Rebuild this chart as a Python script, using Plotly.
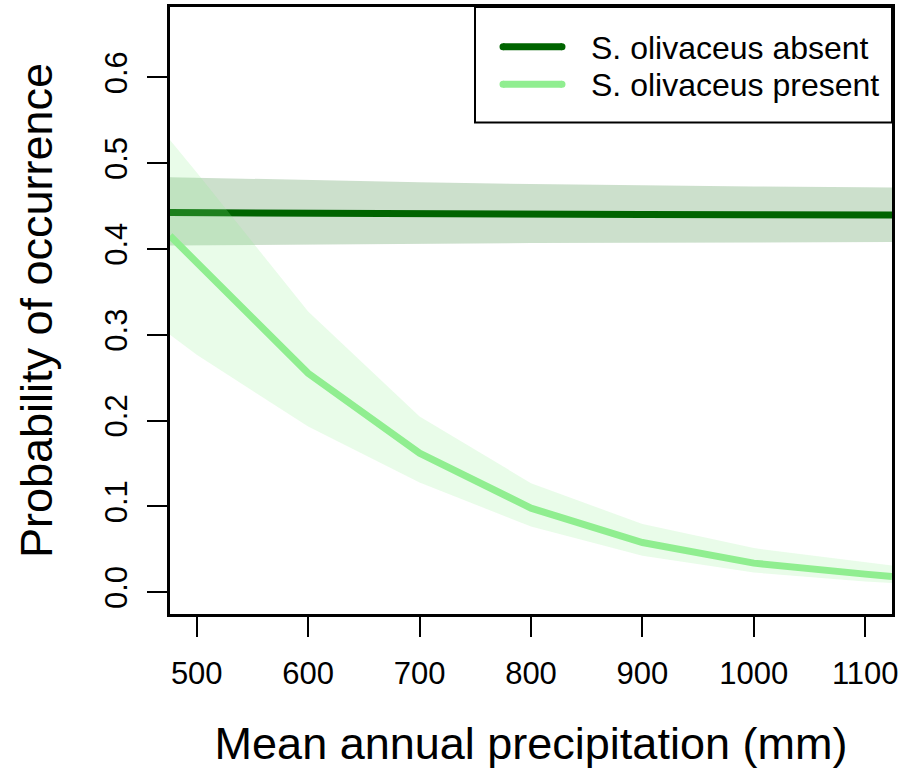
import plotly.graph_objects as go

# ---- data ----
precip = [476, 500, 600, 700, 800, 900, 1000, 1100, 1124]

absent_fit = [0.4424, 0.4422, 0.4416, 0.4411, 0.4406, 0.4402, 0.4399, 0.4397, 0.4397]
absent_upper = [0.4837, 0.4830, 0.4800, 0.4777, 0.4757, 0.4741, 0.4728, 0.4718, 0.4716]
absent_lower = [0.4040, 0.4042, 0.4052, 0.4061, 0.4068, 0.4073, 0.4077, 0.4080, 0.4080]

present_fit = [0.4153, 0.384, 0.255, 0.162, 0.0979, 0.0578, 0.0338, 0.021, 0.0183]
present_upper = [0.527, 0.489, 0.327, 0.2047, 0.127, 0.0793, 0.0513, 0.035, 0.031]
present_lower = [0.300, 0.2766, 0.193, 0.1277, 0.0765, 0.0423, 0.0228, 0.0125, 0.0105]

series_names = ["S. olivaceus absent", "S. olivaceus present"]
x_ticks = [500, 600, 700, 800, 900, 1000, 1100]
y_ticks = [0.0, 0.1, 0.2, 0.3, 0.4, 0.5, 0.6]

dark = "#006400"
light = "#90EE90"
dark_band = "rgba(0,100,0,0.2)"
light_band = "rgba(144,238,144,0.2)"

FONT = "Liberation Sans, Arial, Helvetica, sans-serif"

W, H = 906, 772
L, R, T, B = 170, 14, 7, 158

fig = go.Figure()

def band(x, lo, hi, color):
    return go.Scatter(x=list(x) + list(x)[::-1], y=list(hi) + list(lo)[::-1],
                      fill="toself", fillcolor=color, line=dict(width=0),
                      mode="lines", hoverinfo="skip", showlegend=False)

fig.add_trace(band(precip, absent_lower, absent_upper, dark_band))
fig.add_trace(go.Scatter(x=precip, y=absent_fit, mode="lines", name=series_names[0],
                         line=dict(color=dark, width=7), showlegend=False))
fig.add_trace(band(precip, present_lower, present_upper, light_band))
fig.add_trace(go.Scatter(x=precip, y=present_fit, mode="lines", name=series_names[1],
                         line=dict(color=light, width=7), showlegend=False))

# ---- manual legend (R style box) ----
pw, ph = W - L - R, H - T - B
def px(xp):
    return (xp - L) / pw
def py(yp):
    return (H - B - yp) / ph

fig.add_shape(type="rect", xref="paper", yref="paper",
              x0=px(475), x1=px(892), y0=py(122.5), y1=py(7),
              line=dict(color="black", width=2), fillcolor="white", layer="above")
for i, (name, col) in enumerate(zip(series_names, [dark, light])):
    yc = [46.7, 84.3][i]
    fig.add_shape(type="line", xref="paper", yref="paper",
                  x0=px(503), x1=px(562), y0=py(yc), y1=py(yc),
                  line=dict(color=col, width=7), layer="above")
    for xe in (503, 562):
        fig.add_shape(type="circle", xref="paper", yref="paper",
                      x0=px(xe - 3.5), x1=px(xe + 3.5), y0=py(yc + 3.5), y1=py(yc - 3.5),
                      line=dict(width=0), fillcolor=col, layer="above")
    fig.add_annotation(xref="paper", yref="paper", x=px(589), y=py(yc + 1),
                       text=name, showarrow=False, xanchor="left", yanchor="middle",
                       font=dict(family=FONT, size=32, color="black"))

axis_common = dict(showgrid=False, zeroline=False, showline=True, mirror=True,
                   linecolor="black", linewidth=2.5, ticks="outside", ticklen=20,
                   tickwidth=2, tickcolor="black",
                   tickfont=dict(family=FONT, size=31, color="black"))

fig.update_xaxes(range=[476, 1124], tickvals=x_ticks, ticktext=[str(v) for v in x_ticks],
                 ticklabelstandoff=10,
                 title=dict(text="Mean annual precipitation (mm)",
                            font=dict(family=FONT, size=45, color="black"), standoff=38),
                 **axis_common)
fig.update_yaxes(range=[-0.0255, 0.682], tickvals=y_ticks, ticktext=[f"{v:.1f}" for v in y_ticks],
                 tickangle=-90, ticklabelstandoff=8,
                 title=dict(text="Probability of occurrence",
                            font=dict(family=FONT, size=45, color="black"), standoff=33),
                 **axis_common)

fig.update_layout(width=W, height=H, margin=dict(l=L, r=R, t=T, b=B, autoexpand=False),
                  paper_bgcolor="white", plot_bgcolor="white",
                  font=dict(family=FONT, color="black"), showlegend=False)

fig.write_html("out.html")
